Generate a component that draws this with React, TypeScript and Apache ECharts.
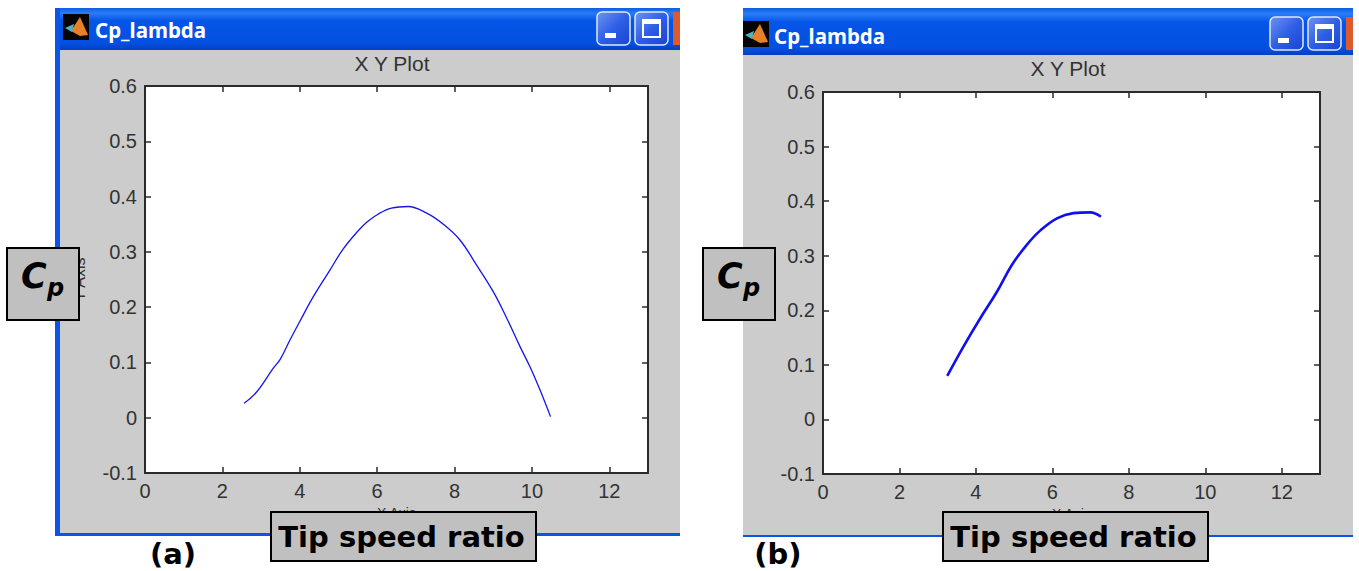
import React, { useEffect, useRef } from "react";
import * as echarts from "echarts";

const xTicks = [0, 2, 4, 6, 8, 10, 12];
const yTicks = [-0.1, 0, 0.1, 0.2, 0.3, 0.4, 0.5, 0.6];

const curveA: [number, number][] = [
  [2.56, 0.026], [2.89, 0.047], [3.32, 0.09], [3.49, 0.105], [3.75, 0.141], [4.0, 0.174],
  [4.35, 0.219], [4.78, 0.267], [5.12, 0.305], [5.47, 0.335], [5.73, 0.3535], [6.03, 0.3685],
  [6.37, 0.379], [6.8, 0.382], [7.28, 0.37], [7.71, 0.35], [8.14, 0.3215], [8.57, 0.276],
  [9.0, 0.228], [9.35, 0.18], [9.69, 0.129], [9.95, 0.092], [10.21, 0.05], [10.48, 0.002],
];
const curveB: [number, number][] = [
  [3.25, 0.0796], [3.67, 0.133], [4.11, 0.185], [4.55, 0.234], [4.94, 0.283], [5.33, 0.32],
  [5.68, 0.346], [6.12, 0.3685], [6.55, 0.378], [6.99, 0.3795], [7.27, 0.3715],
];

const W = 1359, H = 571;
const gridA = { left: 145, top: 86, width: 503, height: 387 };
const gridB = { left: 823, top: 92, width: 497, height: 382 };
const axisFont = "'Liberation Sans', Arial, sans-serif";
const ink = "#333333";

const titleBar = () => ({
  type: "linear", x: 0, y: 0, x2: 0, y2: 1,
  colorStops: [
    { offset: 0, color: "#0a5ee0" }, { offset: 0.12, color: "#2a7df5" },
    { offset: 0.3, color: "#0555e8" }, { offset: 0.85, color: "#0450e0" }, { offset: 1, color: "#0340c0" },
  ],
});
const btnFill = () => ({
  type: "linear", x: 0, y: 0, x2: 1, y2: 1,
  colorStops: [{ offset: 0, color: "#6f93ef" }, { offset: 0.5, color: "#2f5fe6" }, { offset: 1, color: "#1a44d0" }],
});

const btn = (x: number, y: number, w: number, h: number) => ({
  type: "rect", z: -5, shape: { x, y, width: w, height: h, r: 5 },
  style: { fill: btnFill(), stroke: "#dfe8fb", lineWidth: 1.5 },
});

function win(x: number, y: number, w: number, barH: number, bottom: number, side: number, footer: number,
  iconX: number, iconY: number, textX: number, textY: number, btnX: number, btnY: number) {
  const blue = "#0a55e6";
  const els: any[] = [
    { type: "rect", z: -10, shape: { x, y: y + barH, width: w, height: bottom - y - barH }, style: { fill: "#cccccc" } },
    { type: "rect", z: -9, shape: { x, y, width: w, height: barH }, style: { fill: titleBar() } },
    { type: "rect", z: -9, shape: { x, y: bottom - footer, width: w, height: footer }, style: { fill: blue } },
    { type: "rect", z: -6, shape: { x: iconX, y: iconY, width: 26, height: 26 }, style: { fill: "#050505" } },
    { type: "polygon", z: -5, shape: { points: [[iconX + 8, iconY + 17], [iconX + 17, iconY + 3], [iconX + 25, iconY + 21], [iconX + 17, iconY + 22]] }, style: { fill: "#e8802a" } },
    { type: "polygon", z: -5, shape: { points: [[iconX + 2, iconY + 14], [iconX + 11, iconY + 10], [iconX + 9, iconY + 18]] }, style: { fill: "#4fb3c8" } },
    {
      type: "text", z: -5, x: textX, y: textY,
      style: { text: "Cp_lambda", font: "bold 20.5px 'Noto Sans', sans-serif", fill: "#ffffff", textVerticalAlign: "middle", textShadowColor: "#10307a", textShadowOffsetX: 1, textShadowOffsetY: 1 },
    },
    btn(btnX, btnY, 33, 33),
    { type: "rect", z: -4, shape: { x: btnX + 8, y: btnY + 21, width: 11, height: 5 }, style: { fill: "#ffffff" } },
    btn(btnX + 38, btnY, 33, 33),
    { type: "rect", z: -4, shape: { x: btnX + 46, y: btnY + 8, width: 17, height: 17 }, style: { fill: "none", stroke: "#ffffff", lineWidth: 2 } },
    { type: "rect", z: -4, shape: { x: btnX + 46, y: btnY + 8, width: 17, height: 4 }, style: { fill: "#ffffff" } },
    { type: "rect", z: -5, shape: { x: btnX + 76, y: btnY, width: x + w - btnX - 76, height: 33 }, style: { fill: "#dd5a2c" } },
  ];
  if (side) els.push({ type: "rect", z: -9, shape: { x, y, width: side, height: bottom - y }, style: { fill: blue } });
  return els;
}

const boxStyle = { fill: "#c0c0c0", stroke: "#000000", lineWidth: 2 };
const boldFont = "'DejaVu Sans', sans-serif";

function cpBox(x: number, y: number, w: number, h: number) {
  return [
    { type: "rect", z: 50, shape: { x, y, width: w, height: h }, style: boxStyle },
    { type: "text", z: 51, x: x + 14, y: y + 28, style: { text: "C", font: `italic bold 35px ${boldFont}`, fill: "#000", textVerticalAlign: "middle" } },
    { type: "text", z: 51, x: x + 40, y: y + 40, style: { text: "p", font: `italic bold 24px ${boldFont}`, fill: "#000", textVerticalAlign: "middle" } },
  ];
}
function tipBox(x: number, y: number, w: number, h: number) {
  return [
    { type: "rect", z: 50, shape: { x, y, width: w, height: h }, style: boxStyle },
    { type: "text", z: 51, x: x + w / 2 - 2, y: y + h / 2, style: { text: "Tip speed ratio", font: `bold 29px ${boldFont}`, fill: "#000", textAlign: "center", textVerticalAlign: "middle" } },
  ];
}
const panelTag = (x: number, t: string) => ({
  type: "text", z: 51, x, y: 554, style: { text: t, font: `bold 29px ${boldFont}`, fill: "#000", textAlign: "center", textVerticalAlign: "middle" },
});

function axesFor(i: number, xName: string, yName: string) {
  const line = { show: true, onZero: false, lineStyle: { color: "#2b2b2b", width: 2 } };
  const tick = (vals: number[]) => ({ show: true, inside: true, length: 6, customValues: vals, lineStyle: { color: "#2b2b2b", width: 1.5 } });
  const label = { color: ink, fontFamily: axisFont, fontSize: 20 };
  const x = [
    {
      type: "value", gridIndex: i, position: "bottom", min: 0, max: 13, splitLine: { show: false },
      axisLine: line, axisTick: tick(xTicks),
      axisLabel: { ...label, margin: 8, customValues: xTicks },
      name: xName, nameLocation: "middle", nameGap: 33, nameTextStyle: { color: ink, fontFamily: axisFont, fontSize: 14 },
    },
    {
      type: "value", gridIndex: i, position: "top", min: 0, max: 13, splitLine: { show: false },
      axisLine: line, axisTick: tick(xTicks), axisLabel: { show: false },
    },
  ];
  const y = [
    {
      type: "value", gridIndex: i, position: "left", min: -0.1, max: 0.6, splitLine: { show: false },
      axisLine: line, axisTick: tick(yTicks),
      axisLabel: { ...label, margin: 8, customValues: yTicks },
      name: yName, nameLocation: "middle", nameGap: 58, nameTextStyle: { color: ink, fontFamily: axisFont, fontSize: 16 },
    },
    {
      type: "value", gridIndex: i, position: "right", min: -0.1, max: 0.6, splitLine: { show: false },
      axisLine: line, axisTick: tick(yTicks), axisLabel: { show: false },
    },
  ];
  return { x, y };
}

export default function App() {
  const ref = useRef<HTMLDivElement>(null);
  useEffect(() => {
    const chart = echarts.init(ref.current!, undefined, { renderer: "svg" });
    const a = axesFor(0, "X Axis", "Y Axis");
    const b = axesFor(1, "X Axis", "Y Axis");
    chart.setOption({
      animation: false,
      backgroundColor: "#ffffff",
      grid: [
        { ...gridA, show: true, backgroundColor: "#ffffff", borderWidth: 0 },
        { ...gridB, show: true, backgroundColor: "#ffffff", borderWidth: 0 },
      ],
      title: [
        { text: "X Y Plot", left: 387, top: 48, textAlign: "center", textStyle: { color: ink, fontFamily: axisFont, fontSize: 21, fontWeight: "normal" } },
        { text: "X Y Plot", left: 1063, top: 53, textAlign: "center", textStyle: { color: ink, fontFamily: axisFont, fontSize: 21, fontWeight: "normal" } },
      ],
      xAxis: [...a.x, ...b.x],
      yAxis: [...a.y, ...b.y],
      series: [
        { type: "line", xAxisIndex: 0, yAxisIndex: 0, data: curveA, showSymbol: false, smooth: 0.4, lineStyle: { color: "#1414ee", width: 1.3 } },
        { type: "line", xAxisIndex: 2, yAxisIndex: 2, data: curveB, showSymbol: false, smooth: 0.4, lineStyle: { color: "#1010ee", width: 2.6 } },
      ],
      graphic: {
        elements: [
          ...win(55, 8, 625, 42, 536, 5, 3, 63, 14, 95, 30, 597, 12),
          ...win(743, 8, 610, 47, 537, 0, 2, 743, 21, 774, 36, 1270, 17),
          ...cpBox(7, 248, 72, 72),
          ...cpBox(703, 248, 72, 72),
          ...tipBox(271, 512, 265, 49),
          ...tipBox(943, 512, 265, 49),
          panelTag(173, "(a)"),
          panelTag(778, "(b)"),
        ],
      },
    });
    return () => chart.dispose();
  }, []);
  return <div ref={ref} style={{ position: "absolute", left: 0, top: 0, width: W, height: H }} />;
}
